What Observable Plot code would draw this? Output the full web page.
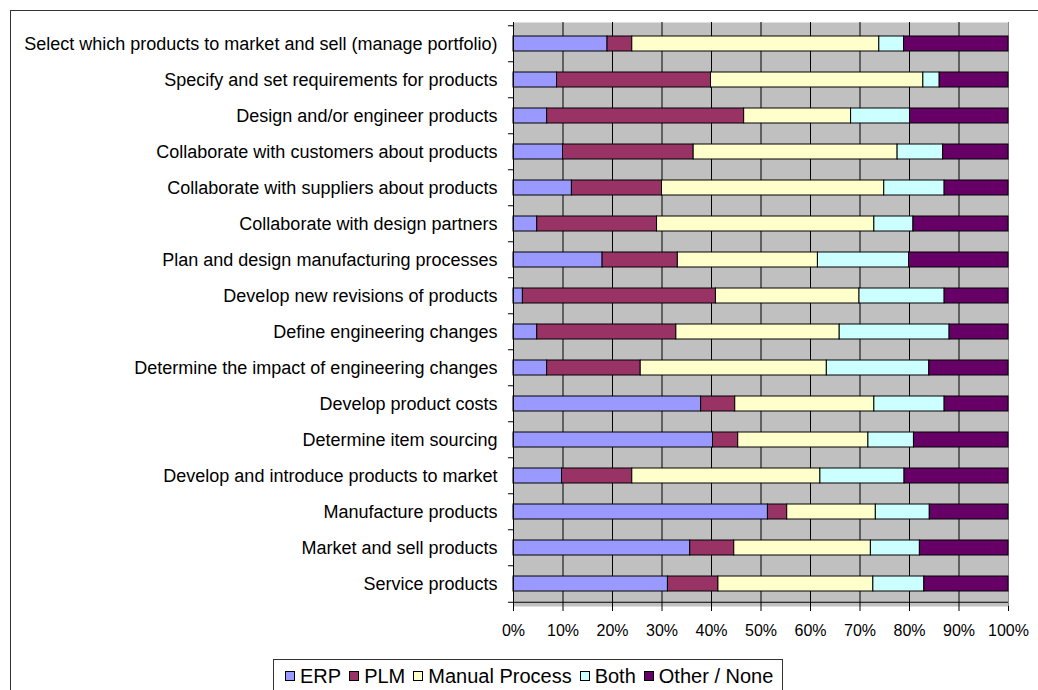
<!DOCTYPE html>
<html>
<head>
<meta charset="utf-8">
<script src="https://cdn.jsdelivr.net/npm/d3@7"></script>
<script src="https://cdn.jsdelivr.net/npm/@observablehq/plot@0.6"></script>
<style>
  html, body { margin: 0; padding: 0; background: #fff; overflow: hidden; }
  #wrap { position: relative; width: 1038px; height: 690px; overflow: hidden; }
  #frame { position: absolute; left: 10px; top: 10px; width: 1100px; height: 800px;
           border-left: 1.5px solid #333; border-top: 1.5px solid #333; pointer-events: none; }
  #chart { position: absolute; left: 0; top: 0; }
  #legend { position: absolute; left: 273px; top: 659px; width: 510px; height: 34px; box-sizing: border-box;
            border: 1px solid #333; background: #fff; display: flex; align-items: center; padding-left: 11px;
            font-family: "Liberation Sans", Arial, sans-serif; font-size: 20px; color: #000;
            white-space: nowrap; overflow: hidden; }
  .item { display: flex; align-items: center; margin-right: 8px; flex-shrink: 0; white-space: nowrap; }
  .sw { width: 8px; height: 8px; border: 1px solid #000; margin-right: 5px; flex-shrink: 0; }
</style>
</head>
<body>
<div id="wrap">
  <div id="chart"></div>
  <div id="legend"></div>
  <div id="frame"></div>
</div>
<script>
const categories = [
  "Select which products to market and sell (manage portfolio)",
  "Specify and set requirements for products",
  "Design and/or engineer products",
  "Collaborate with customers about products",
  "Collaborate with suppliers about products",
  "Collaborate with design partners",
  "Plan and design manufacturing processes",
  "Develop new revisions of products",
  "Define engineering changes",
  "Determine the impact of engineering changes",
  "Develop product costs",
  "Determine item sourcing",
  "Develop and introduce products to market",
  "Manufacture products",
  "Market and sell products",
  "Service products"
];
const erp    = [19.0, 8.8, 6.8, 10.0, 11.8, 4.8, 18.0, 1.9, 4.8, 6.8, 37.9, 40.3, 9.8, 51.4, 35.7, 31.2];
const plm    = [5.0, 31.1, 39.8, 26.4, 18.2, 24.2, 15.2, 39.0, 28.1, 18.9, 6.9, 5.1, 14.2, 3.9, 8.9, 10.2];
const manual = [49.9, 42.9, 21.6, 41.2, 44.9, 43.9, 28.3, 29.0, 33.0, 37.6, 28.1, 26.3, 38.0, 17.9, 27.6, 31.3];
const both   = [5.0, 3.3, 11.9, 9.2, 12.2, 7.9, 18.4, 17.2, 22.2, 20.7, 14.2, 9.2, 17.0, 10.9, 9.9, 10.3];
const other  = [21.1, 13.9, 19.9, 13.2, 12.9, 19.2, 20.1, 12.9, 11.9, 16.0, 12.9, 19.1, 21.0, 15.9, 17.9, 17.0];
const seriesNames = ["ERP", "PLM", "Manual Process", "Both", "Other / None"];
const seriesColors = ["#9999FF", "#993366", "#FFFFCC", "#CCFFFF", "#660066"];
const xTicks = [0, 10, 20, 30, 40, 50, 60, 70, 80, 90, 100];

const seriesValues = [erp, plm, manual, both, other];
const data = categories.flatMap((c, i) =>
  seriesNames.map((s, j) => ({category: c, series: s, value: seriesValues[j][i]}))
);

const W = 1038, H = 655, mT = 22, mB = 49;
const step = (H - mT - mB) / categories.length;
const font = "'Liberation Sans', Arial, sans-serif";

const chart = Plot.plot({
  width: W, height: H,
  marginLeft: 513, marginRight: 30, marginTop: mT, marginBottom: mB,
  style: {fontFamily: font, fontSize: "18px", color: "#000", background: "transparent", overflow: "visible"},
  x: {domain: [0, 100], label: null},
  y: {domain: categories, paddingInner: 0.57, paddingOuter: 0.285, label: null},
  color: {domain: seriesNames, range: seriesColors},
  marks: [
    Plot.frame({fill: "#C0C0C0", stroke: null}),
    Plot.ruleX(xTicks.slice(1, -1), {stroke: "#000", strokeWidth: 1}),
    Plot.ruleX([100], {stroke: "#8a8a8a", strokeWidth: 1}),
    Plot.barX(data, Plot.stackX({
      y: "category", x: "value", fill: "series", order: seriesNames,
      stroke: "#000", strokeWidth: 1
    })),
    Plot.ruleX([0], {stroke: "#000", strokeWidth: 1}),
    Plot.ruleY([categories[categories.length - 1]], {x1: 0, x2: 100, dy: step / 2, stroke: "#000", strokeWidth: 1}),
    Plot.ruleY(categories, {x1: -1, x2: 0, dy: -step / 2, stroke: "#000"}),
    Plot.ruleY([categories[categories.length - 1]], {x1: -1, x2: 0, dy: step / 2, stroke: "#000"}),
    Plot.axisX({ticks: xTicks, tickFormat: d => d + "%", tickSize: 5, tickPadding: 13, fontSize: 16, label: null}),
    Plot.axisY({tickSize: 0, tickPadding: 16, fontSize: 18, label: null})
  ]
});
document.getElementById("chart").appendChild(chart);

const legend = document.getElementById("legend");
seriesNames.forEach((s, i) => {
  const item = document.createElement("div");
  item.className = "item";
  const sw = document.createElement("div");
  sw.className = "sw";
  sw.style.background = seriesColors[i];
  const t = document.createElement("span");
  t.textContent = s;
  item.appendChild(sw);
  item.appendChild(t);
  legend.appendChild(item);
});
</script>
</body>
</html>
